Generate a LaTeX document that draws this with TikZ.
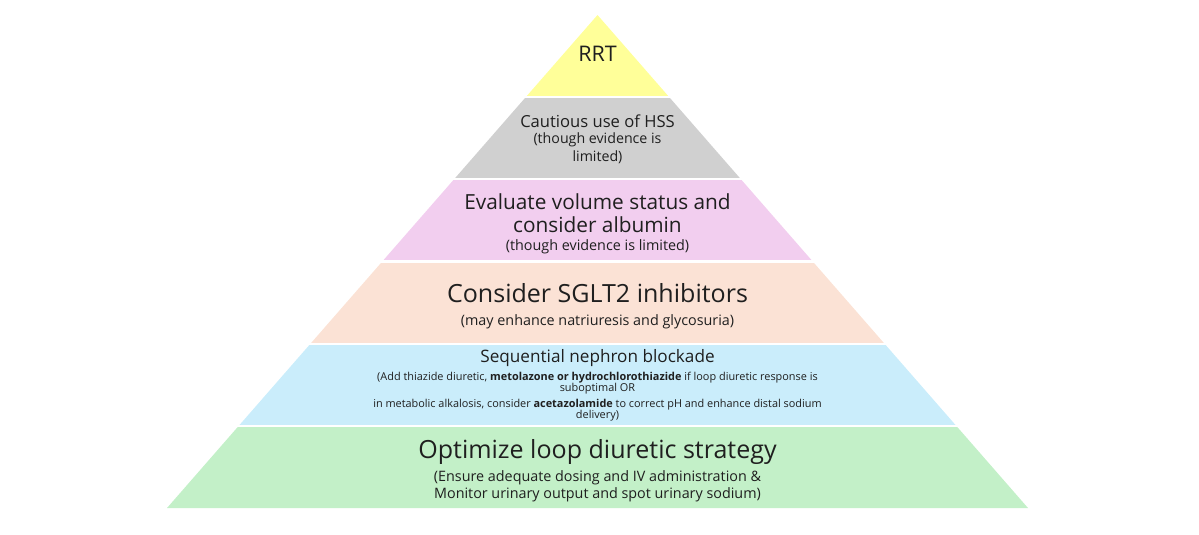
\documentclass[tikz,border=0pt]{standalone}
\usepackage{fontspec}
\setmainfont{Open Sans}
\usetikzlibrary{calc}

\definecolor{tierrrt}{HTML}{FFFF99}
\definecolor{tierhss}{HTML}{D0D0D0}
\definecolor{tieralb}{HTML}{F2CEEF}
\definecolor{tiersglt}{HTML}{FBE2D5}
\definecolor{tierseq}{HTML}{CAEDFB}
\definecolor{tierloop}{HTML}{C3F0C8}
\newcommand\fsz[2]{\fontsize{#1}{#2}\selectfont}

\begin{document}
\begin{tikzpicture}[
  x=0.025cm, y=-0.025cm,
  gap/.style={draw=white, line width=1.5pt},
  head/.style={align=center, inner sep=0pt, text=black!88},
  note/.style={align=center, inner sep=0pt, text=black!88}
]
\useasboundingbox (0,0) rectangle (1199,534);
\coordinate (apex) at (597.5,15);
\coordinate (bl) at (167,508);
\coordinate (br) at (1028,508);

% tiers, top to bottom
\fill[tierrrt] (apex) -- ($(apex)!1/6!(bl)$) -- ($(apex)!1/6!(br)$) -- cycle;
\fill[tierhss] ($(apex)!1/6!(bl)$) -- ($(apex)!2/6!(bl)$) -- ($(apex)!2/6!(br)$) -- ($(apex)!1/6!(br)$) -- cycle;
\fill[tieralb] ($(apex)!2/6!(bl)$) -- ($(apex)!3/6!(bl)$) -- ($(apex)!3/6!(br)$) -- ($(apex)!2/6!(br)$) -- cycle;
\fill[tiersglt] ($(apex)!3/6!(bl)$) -- ($(apex)!4/6!(bl)$) -- ($(apex)!4/6!(br)$) -- ($(apex)!3/6!(br)$) -- cycle;
\fill[tierseq] ($(apex)!4/6!(bl)$) -- ($(apex)!5/6!(bl)$) -- ($(apex)!5/6!(br)$) -- ($(apex)!4/6!(br)$) -- cycle;
\fill[tierloop] ($(apex)!5/6!(bl)$) -- (bl) -- (br) -- ($(apex)!5/6!(br)$) -- cycle;

% white gaps between tiers
\draw[gap] ($(apex)!1/6!(bl)+(-5,0)$) -- ($(apex)!1/6!(br)+(5,0)$);
\draw[gap] ($(apex)!2/6!(bl)+(-5,0)$) -- ($(apex)!2/6!(br)+(5,0)$);
\draw[gap] ($(apex)!3/6!(bl)+(-5,0)$) -- ($(apex)!3/6!(br)+(5,0)$);
\draw[gap] ($(apex)!4/6!(bl)+(-5,0)$) -- ($(apex)!4/6!(br)+(5,0)$);
\draw[gap] ($(apex)!5/6!(bl)+(-5,0)$) -- ($(apex)!5/6!(br)+(5,0)$);

% labels
\node[head, font=\fsz{15.3}{18}] (rrt) at (597.5,54) {RRT};

\node[head, font=\fsz{11.8}{14}] (hss) at (597.5,121) {Cautious use of HSS};
\node[note, font=\fsz{10.1}{12.7}] (hssnote) at (597.5,148.5) {(though evidence is\\limited)};

\node[head, font=\fsz{14.8}{16.3}] (alb) at (597.5,213.5) {Evaluate volume status and\\consider albumin};
\node[note, font=\fsz{10.2}{12}] (albnote) at (597.5,246.5) {(though evidence is limited)};

\node[head, font=\fsz{17.8}{20}] (sglt) at (597.5,293) {Consider SGLT2 inhibitors};
\node[note, font=\fsz{10.2}{12}] (sgltnote) at (597.5,321.5) {(may enhance natriuresis and glycosuria)};

\node[head, font=\fsz{12.2}{14}] (seq) at (597.5,358) {Sequential nephron blockade};
\node[note, font=\fsz{7.75}{7.9}] (seqnote1) at (597.5,383.5) {(Add thiazide diuretic, \textbf{metolazone or hydrochlorothiazide} if loop diuretic response is\\suboptimal OR};
\node[note, font=\fsz{7.75}{7.9}] (seqnote2) at (597.5,410) {in metabolic alkalosis, consider \textbf{acetazolamide} to correct pH and enhance distal sodium\\delivery)};

\node[head, font=\fsz{17.8}{20}] (loop) at (597.5,452) {Optimize loop diuretic strategy};
\node[note, font=\fsz{10.2}{12.3}] (loopnote) at (597.5,486.3) {(Ensure adequate dosing and IV administration \&\\Monitor urinary output and spot urinary sodium)};
\end{tikzpicture}
\end{document}
